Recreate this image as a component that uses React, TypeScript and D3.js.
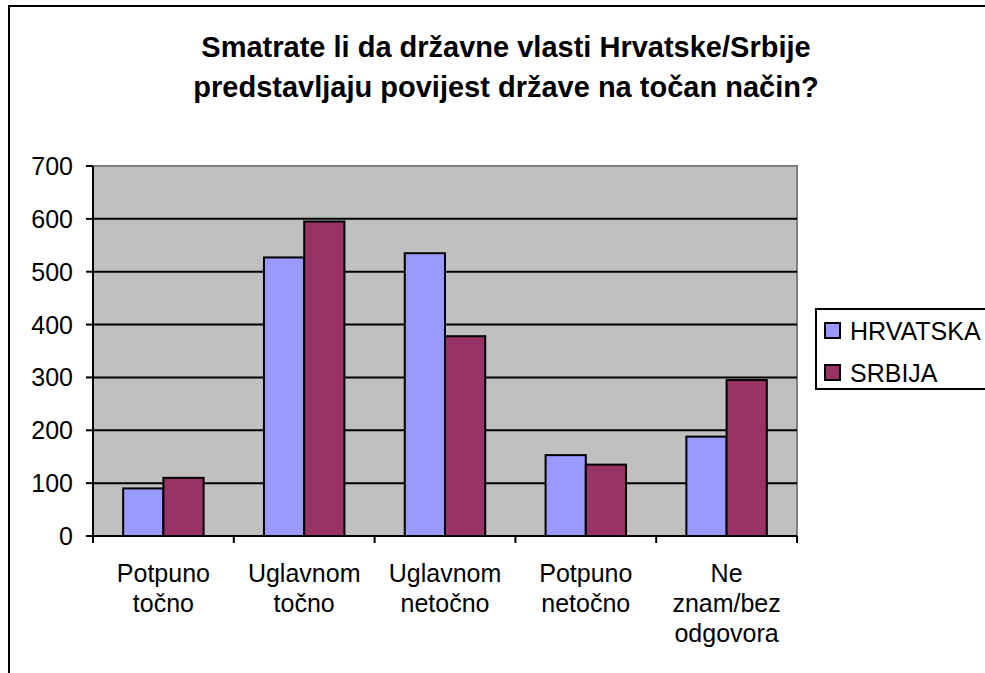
import * as d3 from 'd3';

// Data
const categories = [
  ['Potpuno', 'točno'],
  ['Uglavnom', 'točno'],
  ['Uglavnom', 'netočno'],
  ['Potpuno', 'netočno'],
  ['Ne', 'znam/bez', 'odgovora'],
];
const seriesNames = ['HRVATSKA', 'SRBIJA'];
const hrvatska = [90, 527, 535, 153, 188];
const srbija = [110, 595, 378, 135, 295];
const yTicks = [0, 100, 200, 300, 400, 500, 600, 700];
const titleLines = [
  'Smatrate li da državne vlasti Hrvatske/Srbije',
  'predstavljaju povijest države na točan način?',
];

const W = 985;
const H = 673;
const plot = { left: 93, right: 797, top: 166, bottom: 536 };
const colors = ['#9999FF', '#993366'];
const font = '"Liberation Sans", Arial, sans-serif';

export default function App() {
  const keys = categories.map((c) => c.join(' '));
  const x0 = d3.scaleBand<string>().domain(keys).range([plot.left, plot.right]);
  const barW = x0.bandwidth() / 3.5;
  const x1 = d3
    .scaleBand<string>()
    .domain(seriesNames)
    .range([barW * 0.75, barW * 2.75]);
  const y = d3.scaleLinear().domain([0, 700]).range([plot.bottom, plot.top]);
  const values = [hrvatska, srbija];

  return (
    <div style={{ position: 'absolute', left: 0, top: 0 }}>
      <svg width={W} height={H} style={{ display: 'block', fontFamily: font }}>
        <rect x={0} y={0} width={W} height={H} fill="#fff" />
        {/* chart area border (clipped at right/bottom) */}
        <rect x={9} y={6} width={1000} height={700} fill="#fff" stroke="#000" strokeWidth={2} />

        {/* title */}
        {titleLines.map((t, i) => (
          <text
            key={i}
            x={506}
            y={47 + i * 40}
            textAnchor="middle"
            dominantBaseline="central"
            fontSize={29}
            fontWeight="bold"
          >
            {t}
          </text>
        ))}

        {/* plot area */}
        <rect
          x={plot.left}
          y={plot.top}
          width={plot.right - plot.left}
          height={plot.bottom - plot.top}
          fill="#C0C0C0"
          stroke="#808080"
          strokeWidth={2}
        />
        {yTicks.slice(1, -1).map((t) => (
          <line key={t} x1={plot.left} x2={plot.right} y1={y(t)} y2={y(t)} stroke="#000" strokeWidth={2} />
        ))}

        {/* bars */}
        {keys.map((k, ci) => (
          <g key={k} transform={`translate(${x0(k)},0)`}>
            {seriesNames.map((s, si) => (
              <rect
                key={s}
                x={x1(s)}
                y={y(values[si][ci])}
                width={x1.bandwidth()}
                height={y(0) - y(values[si][ci])}
                fill={colors[si]}
                stroke="#000"
                strokeWidth={2}
              />
            ))}
          </g>
        ))}

        {/* y axis */}
        <line x1={plot.left} x2={plot.left} y1={plot.top} y2={plot.bottom} stroke="#000" strokeWidth={2} />
        {yTicks.map((t) => (
          <g key={t}>
            <line x1={plot.left - 7} x2={plot.left} y1={y(t)} y2={y(t)} stroke="#000" strokeWidth={2} />
            <text x={73} y={y(t)} textAnchor="end" dominantBaseline="central" fontSize={25}>
              {t}
            </text>
          </g>
        ))}

        {/* x axis */}
        <line x1={plot.left - 7} x2={plot.right} y1={plot.bottom} y2={plot.bottom} stroke="#000" strokeWidth={2} />
        {keys.map((k) => (
          <line key={k} x1={x0(k)!} x2={x0(k)!} y1={plot.bottom} y2={plot.bottom + 7} stroke="#000" strokeWidth={2} />
        ))}
        <line x1={plot.right} x2={plot.right} y1={plot.bottom} y2={plot.bottom + 7} stroke="#000" strokeWidth={2} />
        {categories.map((lines, ci) => (
          <text key={ci} textAnchor="middle" fontSize={25}>
            {lines.map((l, li) => (
              <tspan
                key={li}
                x={x0(keys[ci])! + x0.bandwidth() / 2}
                y={573 + li * 30}
                dominantBaseline="central"
              >
                {l}
              </tspan>
            ))}
          </text>
        ))}

        {/* legend */}
        <rect x={816} y={309} width={200} height={80} fill="#fff" stroke="#000" strokeWidth={2} />
        {seriesNames.map((s, i) => (
          <g key={s}>
            <rect x={825} y={323 + i * 42} width={15} height={15} fill={colors[i]} stroke="#000" strokeWidth={2} />
            <text x={850} y={331 + i * 42} dominantBaseline="central" fontSize={25}>
              {s}
            </text>
          </g>
        ))}
      </svg>
    </div>
  );
}
